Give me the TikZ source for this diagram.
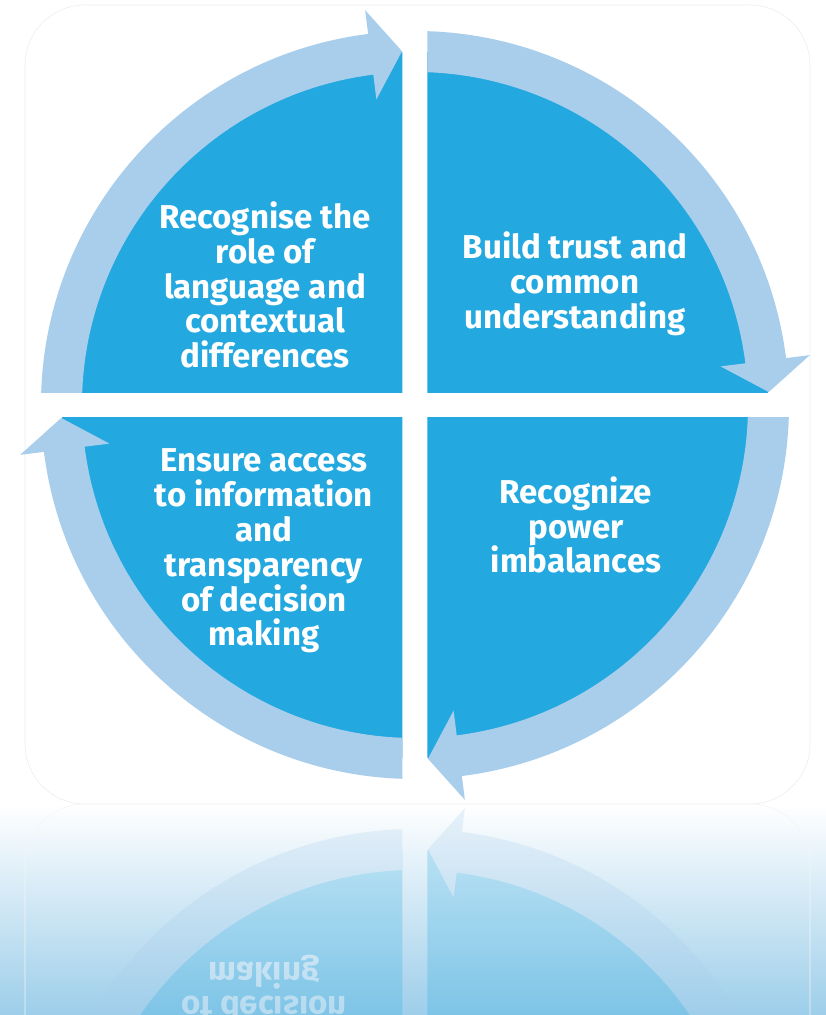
\documentclass[tikz,border=0pt]{standalone}
\usepackage{fontspec}
\setmainfont{Fira Sans}
\definecolor{quadblue}{HTML}{23A8E0}
\definecolor{ringblue}{HTML}{A8CEEC}
\definecolor{floorblue}{HTML}{9DCEEA}
\tikzset{
  quarter/.pic={
    \begin{scope}
      \clip (-12.5,12.5) rectangle (-420,420);
      \fill[quad] (0,0) circle (353);
      \fill[ring] (184:333) arc (184:97.2:333) -- (97.2:308) -- (92.1:354)
        -- (97.2:398) -- (97.2:374) arc (97.2:184:374) -- cycle;
    \end{scope}
  },
  wheel/.pic={
    \pic {quarter};
    \pic[rotate=-90] {quarter};
    \pic[rotate=180] {quarter};
    \pic[rotate=90] {quarter};
    \node[quadtext] (-lang) at (-150,120) {Recognise the\\role of\\language and\\contextual\\differences};
    \node[quadtext] (-trust) at (160,121) {Build trust and\\common\\understanding};
    \node[quadtext] (-power) at (161,-120) {Recognize\\power\\imbalances};
    \node[quadtext] (-access) at (-151,-146) {Ensure access\\to information\\and\\transparency\\of decision\\making};
  },
}

\begin{document}
\begin{tikzpicture}[
    x=0.025cm, y=0.025cm,
    quad/.style={fill=quadblue},
    ring/.style={fill=ringblue},
    quadtext/.style={text=white, align=center, inner sep=0pt,
      font=\bfseries\fontsize{23.5}{24.8}\selectfont},
    card/.style={fill=white, draw=black!7, rounded corners=1.5cm}
]
    \useasboundingbox (-415,-610) rectangle (411,405);
    \fill[white] (-415,-610) rectangle (411,405);

    % floor and mirror image
    \shade[top color=white, middle color=floorblue!32!white, bottom color=floorblue]
      (-415,-610) rectangle (411,-399);
    \begin{scope}
      \clip (-415,-399) rectangle (411,-610);
      \draw[black!4, rounded corners=1.5cm] (-390,-1198) rectangle (395,-399);
      \begin{scope}[transparency group, opacity=0.25]
        \pic[shift={(0,-798)}, yscale=-1, transform shape] (mirror) {wheel};
      \end{scope}
    \end{scope}

    \draw[card] (-390,400) rectangle (395,-399);
    \pic (main) {wheel};
\end{tikzpicture}
\end{document}
